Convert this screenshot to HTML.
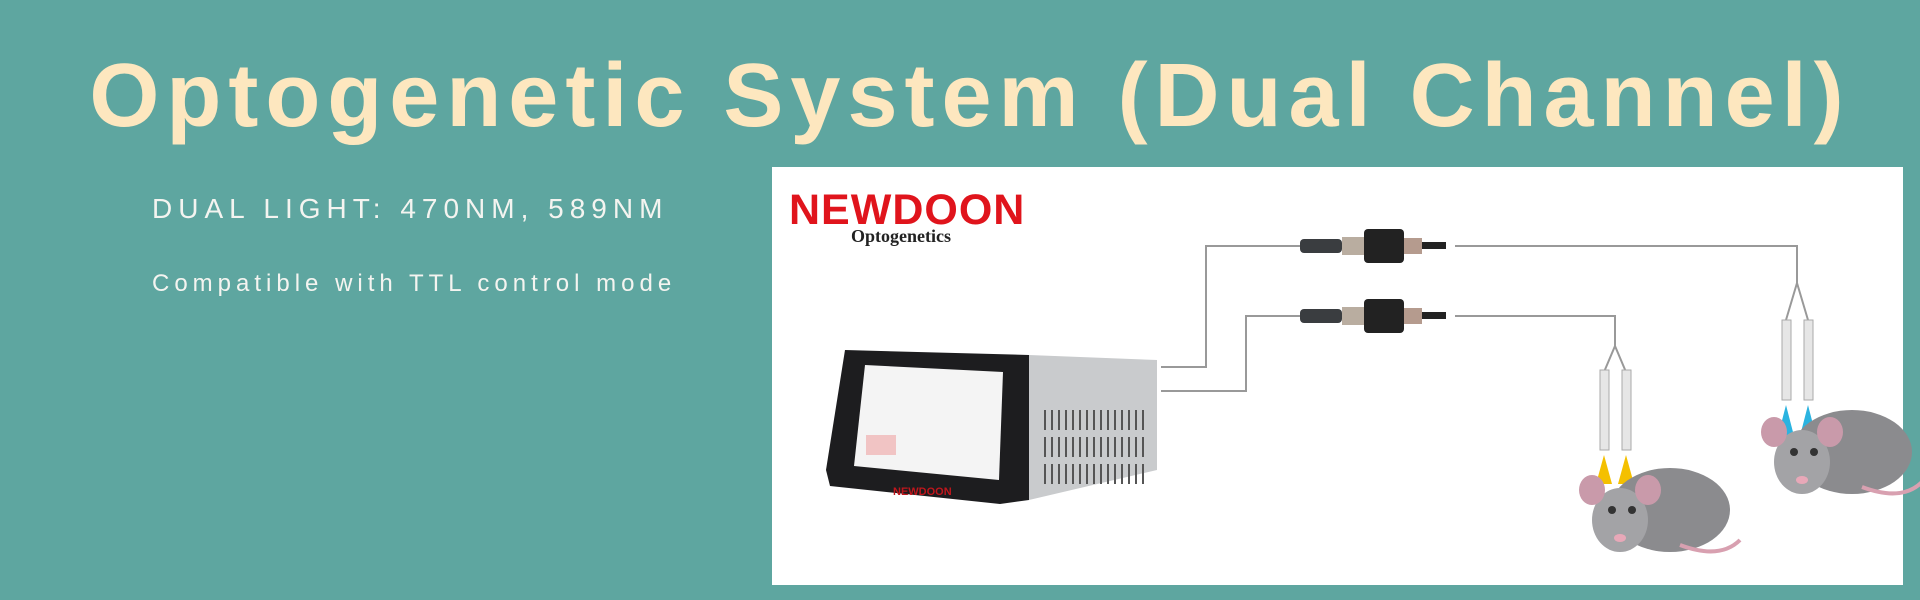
<!DOCTYPE html>
<html><head><meta charset="utf-8"><style>
html,body{margin:0;padding:0}
body{width:1920px;height:600px;background:#5ea6a0;position:relative;overflow:hidden;font-family:"Liberation Sans",sans-serif}
.t{position:absolute;white-space:nowrap}
</style></head><body>
<div class="t" style="left:40px;top:46px;width:1860px;text-align:center;font-size:90px;font-weight:bold;color:#fde7bf;letter-spacing:7px;line-height:100px">Optogenetic System (Dual Channel)</div>
<div class="t" style="left:152px;top:193px;font-size:28px;color:#f4f4f0;letter-spacing:6px">DUAL LIGHT: 470NM, 589NM</div>
<div class="t" style="left:152px;top:270px;font-size:24px;color:#f4f4f0;letter-spacing:5px">Compatible with TTL control mode</div>
<div style="position:absolute;left:772px;top:167px;width:1131px;height:418px;background:#fff"></div>
<div class="t" style="left:789px;top:186px;font-size:43px;font-weight:bold;color:#e0141c;letter-spacing:1px">NEWDOON</div>
<div class="t" style="left:851px;top:226px;font-size:18px;font-weight:bold;font-family:'Liberation Serif',serif;color:#222">Optogenetics</div>
<svg width="1920" height="600" style="position:absolute;left:0;top:0">
<g fill="none" stroke="#999" stroke-width="2">
<polyline points="1161,367 1206,367 1206,246 1300,246"/>
<polyline points="1161,391 1246,391 1246,316 1300,316"/>
<polyline points="1455,246 1797,246 1797,283"/>
<polyline points="1455,316 1615,316 1615,346"/>
<path d="M1797,283 L1786,320 M1797,283 L1808,320 M1615,346 L1604,372 M1615,346 L1626,372"/>
</g>
<g id="c">
<rect x="1300" y="239" width="42" height="14" rx="4" fill="#3a3d40"/>
<rect x="1342" y="237" width="22" height="18" fill="#b9ada0"/>
<rect x="1364" y="229" width="40" height="34" rx="4" fill="#222"/>
<rect x="1404" y="238" width="18" height="16" fill="#b59b8e"/>
<rect x="1422" y="242" width="24" height="7" fill="#222"/>
</g>
<use href="#c" transform="translate(0,70)"/>
<g fill="#e6e6e6" stroke="#aaa">
<rect x="1782" y="320" width="9" height="80"/><rect x="1804" y="320" width="9" height="80"/>
<rect x="1600" y="370" width="9" height="80"/><rect x="1622" y="370" width="9" height="80"/>
</g>
<polygon points="1786,405 1778,436 1794,436" fill="#2bb3e0"/><polygon points="1808,405 1800,436 1816,436" fill="#2bb3e0"/>
<polygon points="1604,455 1596,484 1612,484" fill="#f4c000"/><polygon points="1626,455 1618,484 1634,484" fill="#f4c000"/>
<g id="m">
<ellipse cx="1670" cy="510" rx="60" ry="42" fill="#8b8b8e"/>
<ellipse cx="1620" cy="520" rx="28" ry="32" fill="#a3a3a6"/>
<ellipse cx="1592" cy="490" rx="13" ry="15" fill="#c99aaa"/>
<ellipse cx="1648" cy="490" rx="13" ry="15" fill="#c99aaa"/>
<circle cx="1612" cy="510" r="4" fill="#333"/><circle cx="1632" cy="510" r="4" fill="#333"/>
<ellipse cx="1620" cy="538" rx="6" ry="4" fill="#e8a8b8"/>
<path d="M1680,545 Q1720,560 1740,540" stroke="#d8a0b0" stroke-width="4" fill="none"/>
</g>
<use href="#m" transform="translate(182,-58)"/>
<polygon points="1029,355 1157,360 1157,470 1029,500" fill="#c9cbcd"/>
<polygon points="845,350 1029,355 1029,500 1000,504 830,486 826,470" fill="#1d1d1f"/>
<polygon points="865,365 1003,372 999,480 854,466" fill="#f4f4f4"/>
<rect x="866" y="435" width="30" height="20" fill="#f1c4c4"/>
<g stroke="#555" stroke-width="2">
<path d="M1045,410 v20 M1052,410 v20 M1059,410 v20 M1066,410 v20 M1073,410 v20 M1080,410 v20 M1087,410 v20 M1094,410 v20 M1101,410 v20 M1108,410 v20 M1115,410 v20 M1122,410 v20 M1129,410 v20 M1136,410 v20 M1143,410 v20"/>
<path d="M1045,437 v20 M1052,437 v20 M1059,437 v20 M1066,437 v20 M1073,437 v20 M1080,437 v20 M1087,437 v20 M1094,437 v20 M1101,437 v20 M1108,437 v20 M1115,437 v20 M1122,437 v20 M1129,437 v20 M1136,437 v20 M1143,437 v20"/>
<path d="M1045,464 v20 M1052,464 v20 M1059,464 v20 M1066,464 v20 M1073,464 v20 M1080,464 v20 M1087,464 v20 M1094,464 v20 M1101,464 v20 M1108,464 v20 M1115,464 v20 M1122,464 v20 M1129,464 v20 M1136,464 v20 M1143,464 v20"/>
</g>
<text x="893" y="495" font-size="11" fill="#c0161c" font-weight="bold" font-family="Liberation Sans">NEWDOON</text>
</svg>
</body></html>
